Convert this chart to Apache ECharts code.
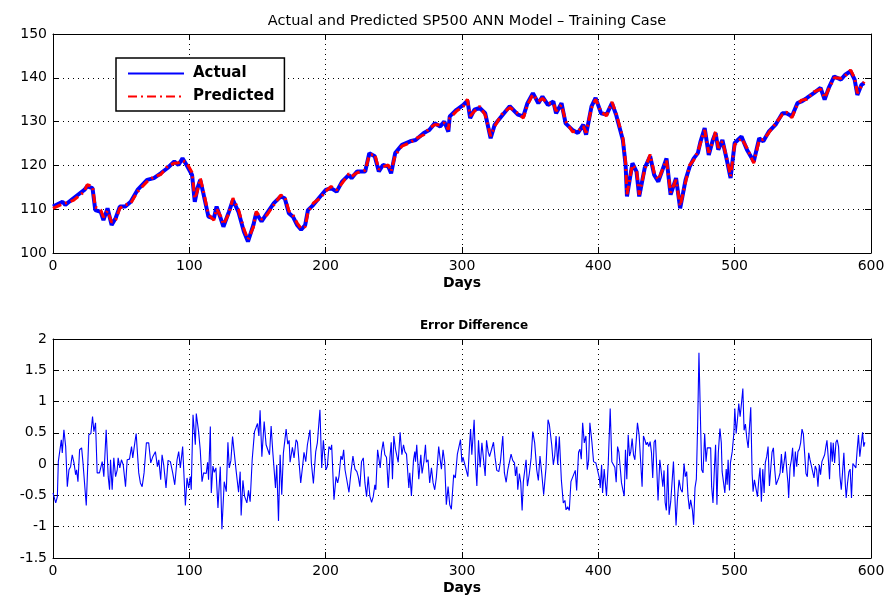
<!DOCTYPE html>
<html>
<head>
<meta charset="utf-8">
<script src="https://cdn.jsdelivr.net/npm/echarts@6/dist/echarts.min.js"></script>
<style>
html,body{margin:0;padding:0;background:#fff;}
#chart{width:890px;height:596px;}
</style>
</head>
<body>
<div id="chart"></div>
<script>
// ---- Data ----
const titleTop = 'Actual and Predicted SP500 ANN Model \u2013 Training Case';
const titleBottom = 'Error Difference';
const xTicks = [0, 100, 200, 300, 400, 500, 600];
const priceTicks = [100, 110, 120, 130, 140, 150];
const errorTicks = [-1.5, -1, -0.5, 0, 0.5, 1, 1.5, 2];

const priceDays = [0,7,9,15,23,25,29,31,35,37,40,43,46,49,53,57,62,69,74,79,84,89,92,95,98,102,104,106,108,110,114,118,120,123,125,129,132,136,140,143,147,149,153,157,162,167,170,173,176,179,182,185,187,191,196,200,204,208,212,217,219,223,229,232,236,239,242,246,248,251,256,262,266,272,276,280,284,287,290,291,296,301,304,306,309,313,317,321,324,329,335,341,345,348,352,356,359,363,367,369,373,376,381,385,389,391,395,398,402,406,410,413,415,418,420,421,425,428,430,434,438,441,444,450,453,457,460,464,467,470,473,475,478,481,484,486,488,491,494,497,500,505,509,514,518,521,525,530,535,538,542,546,549,553,558,563,566,569,573,578,581,585,588,590,593,595];

const actualPrice = [110.6,111.7,111,112.5,114.4,115.2,114.8,109.8,109.4,107.5,110.2,106.4,108,110.6,110.6,111.7,114.4,116.7,117.1,118.2,119.4,120.9,120.1,121.6,120.1,117.8,111.7,114.8,116.7,114,108.3,107.9,110.6,107.9,106,109.4,112.1,109.4,104.9,102.6,106.4,109.1,107.2,109.1,111.4,112.9,112.5,109.1,108.3,106.4,105.3,106.4,109.8,111,112.9,114.4,114.8,114,116.3,117.8,117.1,118.6,118.6,122.8,122.1,118.6,120.1,119.7,118.2,122.8,124.7,125.5,125.8,127.4,128.1,129.6,128.9,130,127.7,131.2,132.7,133.8,134.8,130.8,132.7,133.1,131.9,126.2,129.3,131.2,133.5,131.6,131.2,134.2,136.5,134.2,135.7,133.8,134.6,131.9,134.2,129.6,128.1,127.4,129.3,127,133.5,135.4,131.9,131.6,134.2,131.6,129.3,125.8,120.1,112.9,120.5,118.6,112.9,119.4,122.1,117.8,116.3,121.6,113.3,117.1,110.2,116.7,119.7,121.6,122.8,125.5,128.5,122.4,125.8,127.4,123.6,125.8,121.6,117.1,125.1,126.6,123.6,120.9,126.2,125.5,127.7,129.3,131.9,131.9,131.2,134.2,134.6,135.4,136.5,137.7,135,137.7,140.3,139.6,140.7,141.5,139.6,136.1,138.4,138.8];

const predictedPrice = [110.2,111.2,111.4,112,114,115.6,115.2,110.5,109.8,108.2,109.6,107,107.6,110.2,111,111.3,114,116.3,117.4,117.9,119.8,120.5,120.6,121.1,120.6,118.4,112.4,114.2,117.1,114.6,108.8,107.5,110.1,108.4,106.5,109,112.5,110,105.5,103.1,105.9,109.5,107.7,108.7,111,113.2,112.9,109.6,108.7,106.9,105.6,106,109.3,111.4,112.5,114.1,115.2,114.4,115.9,118.1,117.5,118.3,118.9,122.3,122.6,119.1,119.7,120.1,118.6,122.3,124.4,125.2,126.1,127,128.5,129.3,129.3,129.7,128.2,130.8,132.4,133.5,135.1,131.3,132.3,133.5,131.5,126.7,128.9,131.6,133.2,131.9,130.8,133.8,136.2,134.6,135.3,134.2,134.2,132.4,133.8,130.1,127.7,127.8,128.9,127.5,133.1,135.1,132.3,131.3,134.5,131.9,129.7,126.3,120.6,113.4,120.1,119,113.3,119,122.5,118.3,116.7,121.2,113.8,116.7,110.7,116.2,120.1,121.2,123.2,125.1,128.1,122.9,125.4,127.8,124,125.5,122,117.5,124.7,126.2,124,120.5,125.8,125.9,127.4,129.6,131.6,132.2,130.9,133.9,134.9,135.1,136.8,137.4,135.4,137.4,140,139.9,140.4,141.8,139.9,136.5,138.1,139.1];

const errorDays = [0,2.0,3.2,3.9,5.1,6.1,6.8,8.0,9.3,10.5,11.7,12.9,14.1,15.4,16.6,17.3,18.3,19.5,21.0,22.0,24.4,26.3,27.8,29.0,30.0,31.2,32.4,34.1,36.1,37.3,39.0,40.5,41.5,42.2,43.4,44.6,45.9,47.1,47.8,49.0,50.2,51.5,53.2,54.4,56.1,57.6,58.5,60.0,61.0,62.9,64.1,65.4,66.8,68.5,70.2,71.7,73.2,75.1,76.6,77.6,79.0,80.0,81.2,82.9,84.4,86.1,87.8,89.3,91.0,92.2,93.4,95.1,97.1,98.3,
99.5,100.7,101.4,102.7,104.4,105.1,106.8,108.0,109.3,110.5,112.4,113.4,114.1,115.4,116.1,117.3,118.3,119.5,121.0,122.7,123.9,125.6,127.1,128.3,129.3,130.5,131.7,132.9,134.4,136.1,137.3,138.0,139.3,140.5,142.2,143.4,144.6,146.1,147.8,149.0,150.0,151.0,151.9,153.2,154.9,156.3,157.3,158.8,160.0,161.2,162.2,163.2,164.1,165.4,166.6,167.8,169.0,171.0,172.2,173.2,173.9,175.6,176.8,178.3,179.3,181.7,183.2,184.1,185.4,186.6,187.5,188.5,189.5,191.0,192.7,193.9,195.8,197.1,198.3,199.5,
200.2,201.2,202.4,203.7,204.4,206.1,207.6,208.8,209.8,211.2,212.2,213.2,214.2,215.4,217.1,218.5,220.0,221.5,222.9,223.9,225.1,226.3,227.6,228.8,230.0,231.2,232.4,233.7,234.9,236.1,236.8,238.1,239.0,240.0,241.0,242.2,243.4,244.6,245.9,247.1,248.1,249.0,250.0,251.2,252.2,253.2,254.6,255.9,257.1,258.1,259.3,260.0,261.0,261.7,262.9,264.4,265.4,265.9,266.8,268.3,269.8,270.7,272.0,273.2,273.9,275.1,276.3,277.6,278.8,280.0,281.2,282.9,284.2,284.9,286.1,287.3,288.5,289.8,291.0,292.2,293.9,295.1,296.6,297.6,
298.9,299.9,300.7,301.9,303.1,304.3,305.5,306.3,307.2,308.0,308.9,309.9,310.9,312.1,313.3,314.6,315.8,317.0,318.0,319.2,320.2,321.6,323.1,324.3,325.5,327.0,328.2,329.9,331.1,332.4,333.6,334.8,336.0,337.2,338.5,339.2,340.2,340.9,342.1,343.1,344.1,345.0,346.0,347.0,348.0,349.4,350.7,351.9,353.3,354.8,356.0,357.2,358.5,359.9,361.6,363.1,364.1,365.8,367.0,368.0,369.0,370.2,371.4,372.9,374.3,375.5,376.3,377.5,378.7,379.9,381.1,383.1,384.1,385.5,386.5,387.5,388.5,389.7,390.9,391.9,392.9,393.8,395.3,396.5,
398.2,399.5,400.7,401.4,402.4,403.1,404.3,405.1,406.0,407.3,408.7,409.9,411.2,412.1,413.1,414.1,415.1,416.0,417.0,418.0,419.0,419.9,420.9,421.9,422.9,423.8,424.8,425.8,426.8,427.7,428.7,429.9,431.2,432.1,433.1,434.1,435.1,436.0,437.0,438.0,439.0,439.9,440.9,441.9,442.9,443.8,445.1,446.3,447.3,448.2,449.0,449.9,450.9,451.9,453.1,454.1,455.1,456.0,457.0,458.0,459.2,460.4,461.6,462.9,463.8,464.8,465.8,466.8,467.7,469.0,469.9,470.9,471.9,472.9,473.8,475.1,475.8,476.8,478.0,479.0,479.9,481.2,482.4,483.1,484.1,485.1,486.0,487.0,488.0,489.2,490.2,
490.8,492.1,492.8,493.8,494.5,495.2,496.2,496.9,498.2,499.4,500.1,501.1,502.1,503.0,504.0,505.0,506.0,506.9,507.9,508.9,509.9,510.8,511.8,512.8,513.5,514.5,515.5,516.7,517.7,518.6,519.6,520.6,521.6,522.5,523.5,524.5,525.5,526.4,527.4,528.4,529.4,530.4,531.3,532.3,533.3,534.3,535.2,536.2,537.2,538.2,539.1,539.6,540.6,541.6,542.5,543.5,544.5,545.5,546.4,547.4,548.4,549.4,550.4,551.3,552.3,553.3,554.3,555.2,556.2,557.2,558.2,559.1,560.1,561.1,562.1,563.0,564.0,565.0,566.0,566.9,567.7,568.6,569.6,570.6,571.6,572.3,573.3,574.3,575.2,576.2,577.2,578.2,579.1,580.1,581.1,581.8,582.8,583.8,584.7,585.7,586.7,587.9,588.9,589.9,590.8,591.8,592.8,593.8,594.7,595.5];

const errorValues = [-0.46,-0.62,-0.52,0.04,0.04,0.39,0.18,0.55,0.28,-0.36,-0.09,-0.04,0.15,0.02,-0.17,-0.09,-0.28,0.23,0.26,0.02,-0.66,0.47,0.49,0.76,0.52,0.66,-0.14,-0.14,0.04,-0.2,0.55,-0.2,-0.41,0.07,-0.41,0.1,-0.2,-0.09,0.1,-0.06,0.07,-0.01,-0.36,0.07,0.08,0.28,0.1,0.34,0.49,-0.14,-0.3,-0.36,-0.14,0.34,0.34,0.02,0.12,0.2,-0.04,0.07,-0.25,0.15,-0.01,-0.38,0.06,0.04,-0.14,-0.33,0.07,0.2,-0.06,0.28,-0.66,-0.22,
-0.38,-0.2,-0.41,0.79,0.31,0.81,0.52,0.23,-0.28,-0.14,-0.15,0.03,-0.25,0.6,-0.46,-0.03,-0.13,-0.06,-0.7,-0.04,-1.04,-0.28,-0.44,0.35,-0.06,0.06,0.44,0.43,-0.12,-0.45,-0.12,-0.82,-0.26,-0.51,-0.62,-0.42,-0.6,0.07,0.52,0.59,0.65,0.45,0.86,0.12,0.68,0.31,0.29,0.15,0.61,0.2,0.22,-0.38,-0.01,-0.91,0.15,-0.49,0.18,0.56,0.32,0.38,0.03,0.27,0.1,0.39,0.35,-0.3,-0.01,0.19,0.04,0.31,0.31,0.55,0.02,-0.31,0.2,0.34,0.87,-0.06,0.38,0.35,
-0.09,-0.04,0.28,0.23,0.31,-0.57,-0.2,-0.3,-0.19,0.13,0.07,0.23,-0.09,-0.09,-0.45,-0.14,0.13,-0.08,-0.12,-0.2,-0.36,0.04,0.1,-0.3,-0.52,-0.2,-0.51,-0.61,-0.52,-0.33,-0.41,0.23,0.24,-0.06,0.2,0.36,0.15,0.11,-0.38,0.1,0.35,-0.24,0.45,0.24,0.23,0.03,0.51,0.15,0.31,0.2,0.16,0.19,-0.38,-0.14,-0.51,0.06,0.2,0.04,0.31,-0.24,0.15,-0.15,0.03,0.31,0.03,0.07,-0.3,-0.06,-0.3,-0.41,-0.21,0.28,0.04,-0.08,0.23,0.03,-0.65,-0.36,-0.65,-0.72,-0.17,-0.22,0.16,0.13,
0.39,0.03,0.11,0.1,-0.09,-0.2,0.29,0.56,0.15,0.12,0.71,0.02,-0.35,0.38,-0.05,0.34,0.35,-0.19,0.38,0.2,0.12,0.23,0.35,0.1,-0.1,-0.12,0.04,0.45,-0.14,-0.29,-0.09,-0.08,0.16,0.06,0.02,-0.19,-0.04,-0.41,-0.15,-0.3,-0.74,-0.28,-0.3,0.07,-0.35,-0.15,0.1,0.52,0.34,-0.09,-0.26,0.13,-0.15,-0.49,-0.06,0.71,0.63,0.31,-0.01,0.13,0.45,-0.01,0.44,-0.26,-0.62,-0.58,-0.73,-0.68,-0.74,-0.28,-0.31,-0.1,-0.42,0.19,0.24,0.08,0.66,0.34,0.45,-0.09,0.07,0.66,0.35,0.04,
0.02,-0.01,-0.22,-0.38,-0.01,-0.46,-0.08,-0.06,-0.51,0.02,0.89,0.04,0.02,-0.05,-0.29,0.28,0.19,0.22,-0.3,-0.41,-0.51,0.23,-0.24,0.47,0.13,0.2,0.41,0.15,0.07,0.04,0.66,0.47,0.44,-0.36,0.45,0.39,0.31,0.35,0.28,0.36,0.18,-0.22,0.35,0.39,-0.09,-0.58,0.07,-0.15,-0.36,-0.1,-0.61,-0.74,-0.01,-0.81,-0.6,-0.58,0.04,-0.44,-0.98,-0.57,-0.25,-0.4,-0.45,0.01,-0.2,-0.12,-0.52,-0.72,-0.57,-0.73,-0.97,-0.38,-0.24,0.68,1.78,0.55,-0.09,-0.14,0.49,0.04,0.26,0.29,0.26,-0.36,-0.62,-0.09,0.31,-0.65,0.18,0.57,0.34,
-0.12,-0.12,-0.46,-0.08,-0.33,0.07,-0.42,0.02,0.2,0.49,0.89,0.49,0.73,0.97,0.76,0.97,1.21,0.54,0.64,0.41,0.26,0.24,0.91,-0.15,-0.44,-0.25,-0.28,-0.52,-0.25,-0.06,-0.6,-0.08,-0.46,0.03,0.12,0.28,-0.35,-0.36,0.19,0.26,-0.09,-0.33,-0.35,-0.22,-0.14,0.16,-0.14,0.02,0.2,-0.09,-0.3,-0.54,-0.06,0.07,0.26,-0.2,0.2,-0.04,0.2,0.24,0.34,0.56,0.48,0.18,-0.15,-0.2,0.18,0.08,0.06,-0.12,-0.22,-0.03,-0.09,-0.36,-0.01,-0.17,0.04,0.07,0.15,0.28,0.38,0.12,-0.24,0.35,0.04,0.34,0.02,0.35,0.39,0.28,-0.19,-0.41,-0.14,0.18,-0.3,-0.54,-0.3,-0.12,-0.08,-0.54,0.01,0.02,-0.06,0.24,0.47,0.12,0.15,0.51,0.28,0.35];

// ---- Chart ----
const FONT = '"DejaVu Sans", "Liberation Sans", Arial, sans-serif';
const zip = (xs, ys) => xs.map((x, i) => [x, ys[i]]);

const chart = echarts.init(document.getElementById('chart'), null, {renderer: 'canvas'});

function xAxisPair(grid, withName) {
  return [
    {
      type: 'value', gridIndex: grid, position: 'bottom',
      min: xTicks[0], max: xTicks[xTicks.length - 1], interval: 100,
      name: withName ? 'Days' : '', nameLocation: 'middle', nameGap: 23,
      nameTextStyle: {fontFamily: FONT, fontSize: 14, fontWeight: 'bold', color: '#000'},
      axisLine: {show: true, onZero: false, lineStyle: {color: '#000', width: 1}},
      axisTick: {show: true, inside: true, length: 6, lineStyle: {color: '#000'}},
      axisLabel: {show: true, color: '#000', fontFamily: FONT, fontSize: 14, margin: 6},
      splitLine: {show: true, lineStyle: {color: '#000', type: [1, 4], width: 1}}
    },
    {
      type: 'value', gridIndex: grid, position: 'top',
      min: xTicks[0], max: xTicks[xTicks.length - 1], interval: 100,
      axisLine: {show: true, onZero: false, lineStyle: {color: '#000', width: 1}},
      axisTick: {show: true, inside: true, length: 6, lineStyle: {color: '#000'}},
      axisLabel: {show: false}, splitLine: {show: false}
    }
  ];
}

function yAxisPair(grid, ticks, interval) {
  const common = {
    type: 'value', gridIndex: grid,
    min: ticks[0], max: ticks[ticks.length - 1], interval: interval
  };
  return [
    Object.assign({}, common, {
      position: 'left',
      axisLine: {show: true, onZero: false, lineStyle: {color: '#000', width: 1}},
      axisTick: {show: true, inside: true, length: 6, lineStyle: {color: '#000'}},
      axisLabel: {show: true, color: '#000', fontFamily: FONT, fontSize: 14, margin: 6},
      splitLine: {show: true, lineStyle: {color: '#000', type: [1, 4], width: 1}}
    }),
    Object.assign({}, common, {
      position: 'right',
      axisLine: {show: true, onZero: false, lineStyle: {color: '#000', width: 1}},
      axisTick: {show: true, inside: true, length: 6, lineStyle: {color: '#000'}},
      axisLabel: {show: false}, splitLine: {show: false}
    })
  ];
}

const option = {
  animation: false,
  backgroundColor: '#fff',
  title: [
    {text: titleTop, left: 462, top: 9, textAlign: 'center',
     textStyle: {fontFamily: FONT, fontSize: 14.5, fontWeight: 'normal', color: '#000'}},
    {text: titleBottom, left: 469, top: 315, textAlign: 'center',
     textStyle: {fontFamily: FONT, fontSize: 12, fontWeight: 'bold', color: '#000'}}
  ],
  legend: {
    data: ['Actual', 'Predicted'],
    orient: 'vertical',
    left: 116, top: 58,
    itemWidth: 56, itemHeight: 12, itemGap: 8,
    padding: [8, 10, 7, 11],
    borderColor: '#000', borderWidth: 1.5,
    backgroundColor: '#fff',
    itemStyle: {opacity: 0},
    textStyle: {fontFamily: FONT, fontSize: 15, fontWeight: 'bold', color: '#000', padding: [0, 0, 0, 4]}
  },
  grid: [
    {left: 53, right: 19, top: 34, height: 219},
    {left: 53, right: 19, top: 339, height: 219}
  ],
  xAxis: [].concat(xAxisPair(0, true), xAxisPair(1, true)),
  yAxis: [].concat(yAxisPair(0, priceTicks, 10), yAxisPair(1, errorTicks, 0.5)),
  series: [
    {
      name: 'Actual', type: 'line', xAxisIndex: 0, yAxisIndex: 0,
      data: zip(priceDays, actualPrice),
      symbol: 'none', smooth: false,
      lineStyle: {color: '#0000ff', width: 4},
      itemStyle: {color: '#0000ff'}
    },
    {
      name: 'Predicted', type: 'line', xAxisIndex: 0, yAxisIndex: 0,
      data: zip(priceDays, predictedPrice),
      symbol: 'none', smooth: false,
      lineStyle: {color: '#ff0000', width: 3, type: [9, 4, 2, 4]},
      itemStyle: {color: '#ff0000'}
    },
    {
      name: 'Error', type: 'line', xAxisIndex: 2, yAxisIndex: 2,
      data: zip(errorDays, errorValues),
      symbol: 'none', smooth: false,
      lineStyle: {color: '#0000ff', width: 1.1}
    }
  ]
};
chart.setOption(option);
</script>
</body>
</html>
